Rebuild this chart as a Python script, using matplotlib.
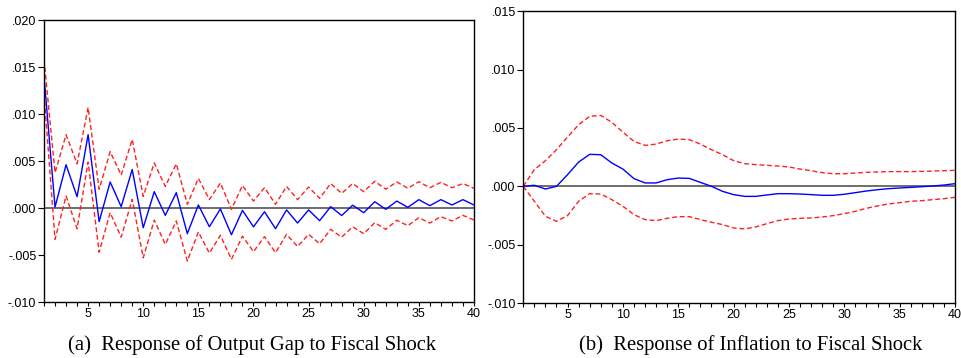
import matplotlib
matplotlib.use("Agg")
import matplotlib.pyplot as plt
import numpy as np
from matplotlib.ticker import FuncFormatter, MultipleLocator

# horizon
periods = np.arange(1, 41)

# (a) output gap response to fiscal shock (x 0.001)
gap_resp = [14.0, 0.1, 4.6, 1.2, 7.8, -1.45, 2.77, 0.14, 4.1, -2.1,
            1.74, -0.78, 1.63, -2.73, 0.32, -1.99, -0.1, -2.84, -0.25, -2.0,
            -0.4, -2.2, -0.2, -1.6, -0.2, -1.35, 0.14, -0.8, 0.3, -0.5,
            0.67, -0.14, 0.74, 0.07, 0.89, 0.25, 0.89, 0.32, 0.89, 0.32]
gap_upper = [15.8, 3.76, 7.8, 4.7, 10.7, 2.0, 6.0, 3.5, 7.3, 1.24,
             4.8, 2.3, 4.7, 0.4, 3.16, 0.9, 2.66, -0.14, 2.4, 0.74,
             2.16, 0.4, 2.3, 0.89, 2.23, 1.03, 2.6, 1.56, 2.6, 1.74,
             2.84, 2.0, 2.77, 2.1, 2.8, 2.16, 2.73, 2.16, 2.6, 2.1]
gap_lower = [12.2, -3.33, 1.28, -2.2, 4.9, -4.7, -0.5, -3.1, 0.92, -5.3,
             -1.28, -3.87, -1.38, -5.64, -2.55, -4.8, -2.9, -5.46, -3.0, -4.65,
             -3.05, -4.75, -2.8, -4.1, -2.8, -3.8, -2.27, -3.1, -2.0, -2.73,
             -1.56, -2.27, -1.3, -1.88, -1.03, -1.6, -0.92, -1.38, -0.78, -1.28]

# (b) inflation response to fiscal shock (x 0.001)
inf_resp = [0.0, 0.09, -0.23, 0.0, 1.0, 2.08, 2.74, 2.71, 2.0, 1.48,
            0.66, 0.29, 0.29, 0.57, 0.71, 0.68, 0.34, 0.0, -0.43, -0.71,
            -0.86, -0.86, -0.74, -0.63, -0.63, -0.66, -0.71, -0.77, -0.77, -0.68,
            -0.54, -0.4, -0.29, -0.2, -0.14, -0.09, -0.03, 0.03, 0.11, 0.23]
inf_upper = [0.0, 1.43, 2.2, 3.14, 4.22, 5.28, 6.0, 6.08, 5.48, 4.65,
             3.85, 3.51, 3.62, 3.91, 4.05, 4.0, 3.62, 3.14, 2.71, 2.2,
             1.94, 1.86, 1.8, 1.74, 1.66, 1.48, 1.34, 1.17, 1.08, 1.08,
             1.14, 1.2, 1.23, 1.26, 1.26, 1.26, 1.28, 1.31, 1.34, 1.37]
inf_lower = [0.0, -1.28, -2.57, -3.0, -2.51, -1.28, -0.63, -0.66, -1.14, -1.71,
             -2.43, -2.85, -2.94, -2.74, -2.6, -2.6, -2.85, -3.08, -3.28, -3.57,
             -3.65, -3.48, -3.2, -2.94, -2.8, -2.74, -2.71, -2.63, -2.51, -2.34,
             -2.14, -1.88, -1.68, -1.51, -1.4, -1.28, -1.23, -1.14, -1.06, -0.94]

captions = ["(a)  Response of Output Gap to Fiscal Shock",
            "(b)  Response of Inflation to Fiscal Shock"]


def no_lead_zero(v, pos):
    s = f"{v:.3f}"
    return s.replace("0.", ".", 1)


def draw_panel(ax, resp, upper, lower, ylim, ystep):
    scale = 0.001
    ax.plot(periods, np.array(resp) * scale, color="#0000ff", lw=1.0)
    ax.plot(periods, np.array(upper) * scale, color="#ff2020", lw=1.0,
            dashes=(3.5, 2))
    ax.plot(periods, np.array(lower) * scale, color="#ff2020", lw=1.0,
            dashes=(3.5, 2))
    ax.axhline(0, color="#555555", lw=1.2, zorder=1)
    ax.set_xlim(1, 40)
    ax.set_ylim(*ylim)
    ax.yaxis.set_major_locator(MultipleLocator(ystep))
    ax.yaxis.set_major_formatter(FuncFormatter(no_lead_zero))
    ax.xaxis.set_major_locator(MultipleLocator(5))
    ax.xaxis.set_minor_locator(MultipleLocator(1))
    ax.tick_params(axis="y", which="major", direction="out", length=4,
                   width=0.8, labelsize=9, pad=1.5)
    ax.tick_params(axis="x", which="both", direction="out", length=3,
                   width=0.8, labelsize=9, pad=1.5)
    for sp in ax.spines.values():
        sp.set_linewidth(1.0)
    for lab in ax.get_xticklabels() + ax.get_yticklabels():
        lab.set_family(["Liberation Sans", "DejaVu Sans"])


fig = plt.figure(figsize=(9.61, 3.58), dpi=100)
ax1 = fig.add_axes([0.0458, 0.1564, 0.4474, 0.7877])
ax2 = fig.add_axes([0.5445, 0.1536, 0.4493, 0.8148])

draw_panel(ax1, gap_resp, gap_upper, gap_lower, (-0.010, 0.020), 0.005)
draw_panel(ax2, inf_resp, inf_upper, inf_lower, (-0.010, 0.015), 0.005)

fig.text(0.262, 0.036, captions[0], ha="center", va="center",
         family="Liberation Serif", fontsize=14.9)
fig.text(0.781, 0.036, captions[1], ha="center", va="center",
         family="Liberation Serif", fontsize=14.9)

fig.savefig("out.png", dpi=100)
